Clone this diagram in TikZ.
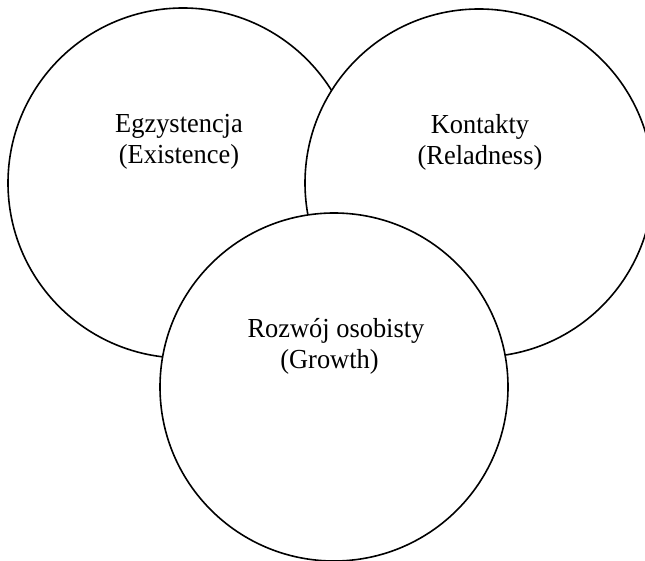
\documentclass[tikz,border=0pt]{standalone}
\usepackage{fontspec}
\setmainfont[FakeStretch=0.96]{Liberation Serif}
\begin{document}
\begin{tikzpicture}[x=1pt,y=-1pt,
  ring/.style={draw=black,fill=white,line width=1.6pt},
  lbl/.style={align=center,font=\fontsize{27.5}{31}\selectfont,inner sep=0pt}]
\useasboundingbox (0,0) rectangle (645,561);
\clip (0,0) rectangle (645,561);
\fill[white] (0,0) rectangle (645,561);
\draw[ring] (183,183) circle[radius=175];
\draw[ring] (479,183) circle[radius=174];
\draw[ring] (334,387) circle[radius=174];
\node[lbl] (e) at (179,142) {Egzystencja\\(Existence)};
\node[lbl] (k) at (480,142) {Kontakty\\(Reladness)};
\node[lbl] (g) at (336,346) {Rozwój osobisty\\(Growth)\hspace*{13pt}};
\end{tikzpicture}
\end{document}
